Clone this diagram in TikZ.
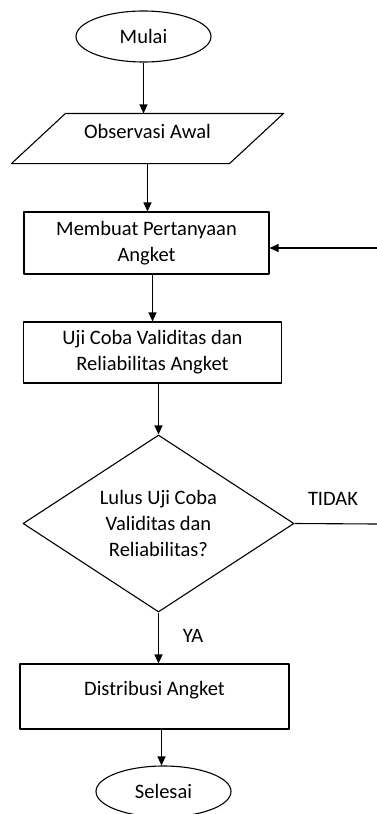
\documentclass[tikz,border=0pt]{standalone}
\usepackage{fontspec}
\setmainfont{Carlito}
\usetikzlibrary{shapes.geometric,arrows.meta}
\tikzset{
	terminal/.style={draw, ellipse, minimum width=135pt, minimum height=51pt, inner sep=0pt},
	proses/.style={draw, rectangle, align=center, inner sep=0pt},
	masukan/.style={rectangle, minimum height=49pt, minimum width=217pt, inner sep=0pt, text depth=15pt},
	keputusan/.style={draw, diamond, aspect=1.53, align=center, minimum width=271pt, minimum height=177pt, inner sep=0pt}
}
\begin{document}
\begin{tikzpicture}[x=1pt, y=-1pt, line width=1.1pt, line join=round, >={Triangle[length=9pt,width=8pt]}, font=\fontsize{20.5}{26}\selectfont]
	\useasboundingbox (0,0) rectangle (377,814);
	\node[terminal] (mulai) at (143.5,36.5) {Mulai};
	\node[masukan] (obs) at (147.5,138.5) {Observasi Awal};
	\draw ([xshift=27pt]obs.north west) -- ([xshift=27pt]obs.north east) -- ([xshift=-27pt]obs.south east) -- ([xshift=-27pt]obs.south west) -- cycle;
	\node[proses, minimum width=245pt, minimum height=62pt] (buat) at (146.5,243) {Membuat Pertanyaan\\Angket};
	\node[proses, minimum width=258pt, minimum height=61pt] (uji) at (152.5,352.5) {Uji Coba Validitas dan\\Reliabilitas Angket};
	\node[keputusan] (cek) at (158.5,523.5) {Lulus Uji Coba\\Validitas dan\\Reliabilitas?};
	\node[proses, minimum width=269pt, minimum height=65pt, text depth=17pt] (dist) at (154.5,696.5) {Distribusi Angket};
	\node[terminal] (selesai) at (163.5,791.5) {Selesai};
	\node (tidak) at (333,499) {TIDAK};
	\node (ya) at (193,636) {YA};
	\coordinate (kanan1) at (377,524);
	\coordinate (kanan2) at (377,248);
	% alur utama
	\draw[->] (mulai.south) -- (mulai.south |- obs.north);
	\draw[->] (obs.south) -- (obs.south |- buat.north);
	\draw[->] (uji.north |- buat.south) -- (uji.north);
	\draw[->] (cek.north |- uji.south) -- (cek.north);
	\draw[->] (cek.south) -- (cek.south |- dist.north);
	\draw[->] (dist.south -| 161.5,0) -- (selesai.north -| 161.5,0);
	% kembali bila tidak lulus
	\draw (cek.east) -- (kanan1);
	\draw[->] (kanan2) -- (kanan2 -| buat.east);
\end{tikzpicture}
\end{document}
